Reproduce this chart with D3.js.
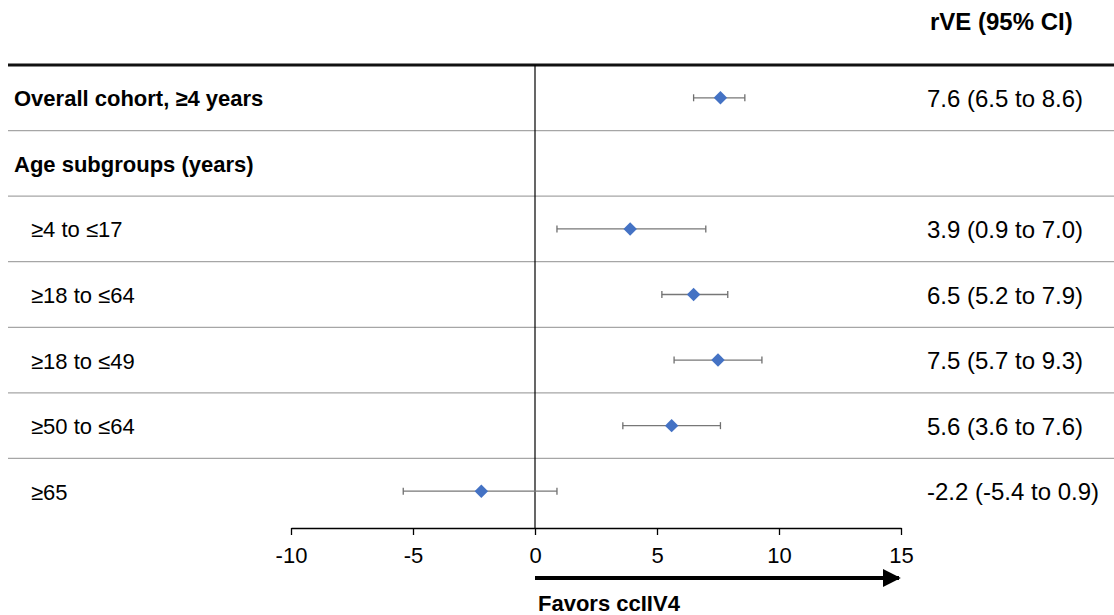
<!DOCTYPE html>
<html><head><meta charset="utf-8">
<script src="https://cdn.jsdelivr.net/npm/d3@7"></script>
<style>body{margin:0;background:#fff}svg{display:block;font-family:"Liberation Sans",Arial,sans-serif}</style>
</head><body>
<script>
const labels = ["Overall cohort, \u22654 years","Age subgroups (years)","\u22654 to \u226417","\u226518 to \u226464","\u226518 to \u226449","\u226550 to \u226464","\u226565"];
const isHeader = [true,true,false,false,false,false,false];
const estimates = [7.6,null,3.9,6.5,7.5,5.6,-2.2];
const lower = [6.5,null,0.9,5.2,5.7,3.6,-5.4];
const upper = [8.6,null,7.0,7.9,9.3,7.6,0.9];
const ciText = ["7.6 (6.5 to 8.6)","","3.9 (0.9 to 7.0)","6.5 (5.2 to 7.9)","7.5 (5.7 to 9.3)","5.6 (3.6 to 7.6)","-2.2 (-5.4 to 0.9)"];
const xTicks = [-10,-5,0,5,10,15];

const W=1114,H=615;
const svg=d3.select("body").append("svg").attr("width",W).attr("height",H);
const x=d3.scaleLinear().domain([-10,15]).range([291,901]);
const y=d3.scaleBand().domain(d3.range(labels.length)).range([65,524]);

// header
svg.append("text").attr("x",930).attr("y",30).attr("font-weight","bold").attr("font-size",24).text("rVE (95% CI)");
// top line
svg.append("line").attr("x1",8).attr("x2",W).attr("y1",65).attr("y2",65).attr("stroke","#111").attr("stroke-width",3);
// row separators
d3.range(1,labels.length).forEach(i=>{
  svg.append("line").attr("x1",8).attr("x2",W).attr("y1",y(i)).attr("y2",y(i)).attr("stroke","#a6a6a6").attr("stroke-width",1.2);
});
// zero line
svg.append("line").attr("x1",x(0)).attr("x2",x(0)).attr("y1",65).attr("y2",528).attr("stroke","#000").attr("stroke-width",1.2);

// labels
labels.forEach((l,i)=>{
  const cy=y(i)+y.bandwidth()/2;
  svg.append("text").attr("x",isHeader[i]?14:31).attr("y",cy+8.5)
    .attr("font-size",22).attr("font-weight",isHeader[i]?"bold":"normal").attr("fill","#000").text(l);
  if(ciText[i]) svg.append("text").attr("x",927).attr("y",cy+9).attr("font-size",24).text(ciText[i]);
});

// error bars + diamonds
const g=svg.append("g");
estimates.forEach((e,i)=>{
  if(e===null) return;
  const cy=y(i)+y.bandwidth()/2;
  g.append("line").attr("x1",x(lower[i])).attr("x2",x(upper[i])).attr("y1",cy).attr("y2",cy).attr("stroke","#777").attr("stroke-width",1.3);
  [lower[i],upper[i]].forEach(v=>g.append("line").attr("x1",x(v)).attr("x2",x(v)).attr("y1",cy-3.5).attr("y2",cy+3.5).attr("stroke","#6f6f6f").attr("stroke-width",1.3));
  g.append("path").attr("d",d3.symbol(d3.symbolDiamond2,115)()).attr("transform",`translate(${x(e)},${cy})`).attr("fill","#4472c4");
});

// axis
const ax=svg.append("g").attr("transform","translate(0,528)")
  .call(d3.axisBottom(x).tickValues(xTicks).tickFormat(d=>String(d)).tickSize(7).tickSizeOuter(0).tickPadding(12));
ax.select(".domain").attr("stroke","#000").attr("stroke-width",1.3);
ax.selectAll(".tick line").attr("stroke","#000").attr("stroke-width",1.3);
ax.selectAll("text").attr("font-size",22).attr("fill","#000").attr("font-family","Liberation Sans, Arial, sans-serif");

// arrow
svg.append("defs").append("marker").attr("id","ah").attr("viewBox","0 0 10 10").attr("refX",9).attr("refY",5)
  .attr("markerWidth",4.5).attr("markerHeight",5).attr("markerUnits","strokeWidth").attr("orient","auto")
  .append("path").attr("d","M0,0 L10,5 L0,10 Z").attr("fill","#000");
svg.append("line").attr("x1",x(0)).attr("x2",x(15)-2).attr("y1",578).attr("y2",578).attr("stroke","#000").attr("stroke-width",4).attr("marker-end","url(#ah)");
svg.append("text").attr("x",538).attr("y",611).attr("font-weight","bold").attr("font-size",22).text("Favors ccIIV4");
</script>
</body></html>
